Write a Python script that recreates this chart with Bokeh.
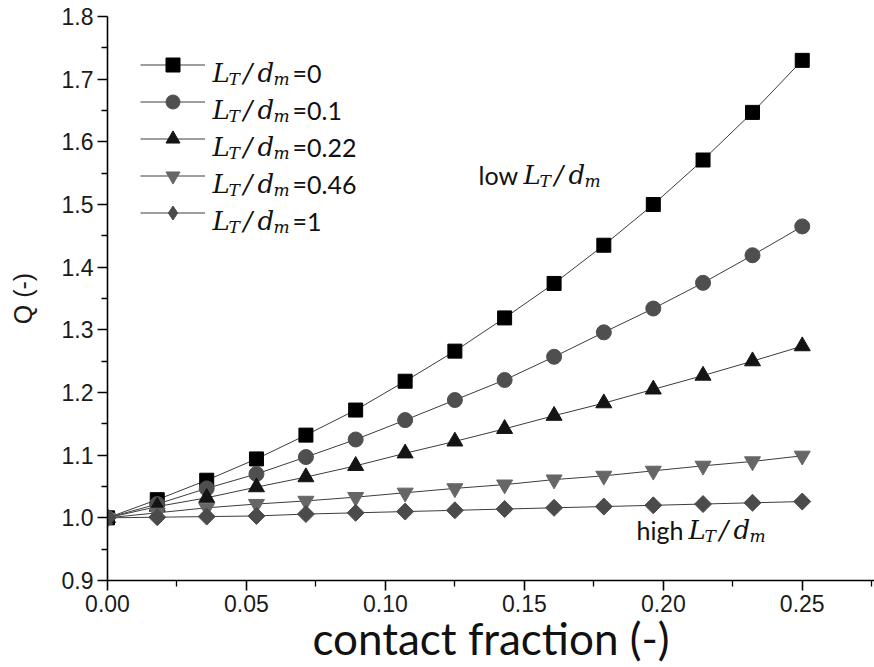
from math import pi

from bokeh.core.properties import value
from bokeh.embed import file_html
from bokeh.models import FixedTicker, Label, Legend, LegendItem, PrintfTickFormatter, Range1d
from bokeh.plotting import figure
from bokeh.resources import INLINE

# contact fraction and flux ratio Q for five values of L_T/d_m
contact_fraction = [0.0, 0.0179, 0.0357, 0.0536, 0.0714, 0.0893, 0.1071, 0.125,
                    0.1429, 0.1607, 0.1786, 0.1964, 0.2143, 0.2321, 0.25]
q_lt_0 = [1.000, 1.029, 1.060, 1.094, 1.132, 1.172, 1.218, 1.266,
          1.319, 1.374, 1.435, 1.500, 1.571, 1.647, 1.730]
q_lt_01 = [1.000, 1.022, 1.047, 1.070, 1.097, 1.125, 1.156, 1.188,
           1.220, 1.257, 1.296, 1.334, 1.375, 1.419, 1.465]
q_lt_022 = [1.000, 1.018, 1.032, 1.049, 1.065, 1.083, 1.103, 1.122,
            1.142, 1.163, 1.183, 1.205, 1.227, 1.250, 1.274]
q_lt_046 = [1.000, 1.008, 1.016, 1.022, 1.027, 1.033, 1.040, 1.047,
            1.053, 1.061, 1.067, 1.075, 1.083, 1.090, 1.099]
q_lt_1 = [1.000, 1.001, 1.002, 1.003, 1.006, 1.008, 1.010, 1.012,
          1.014, 1.016, 1.018, 1.020, 1.022, 1.024, 1.026]

ratio_labels = ["=0", "=0.1", "=0.22", "=0.46", "=1"]
x_ticks = [0.0, 0.05, 0.10, 0.15, 0.20, 0.25]
x_minor = [0.025, 0.075, 0.125, 0.175, 0.225, 0.275]
y_ticks = [0.9, 1.0, 1.1, 1.2, 1.3, 1.4, 1.5, 1.6, 1.7, 1.8]
y_minor = [0.95, 1.05, 1.15, 1.25, 1.35, 1.45, 1.55, 1.65, 1.75]

FRAME_LEFT, FRAME_BOTTOM = 107, 580

p = figure(width=874, height=667, x_range=Range1d(0, 0.276), y_range=Range1d(0.9, 1.8),
           output_backend="svg", toolbar_location=None,
           min_border_left=FRAME_LEFT, min_border_right=0, min_border_top=16,
           min_border_bottom=667 - FRAME_BOTTOM)
p.outline_line_color = None
p.grid.visible = False
p.background_fill_color = "white"
p.border_fill_color = "white"

p.xaxis.ticker = FixedTicker(ticks=x_ticks, minor_ticks=x_minor)
p.xaxis.formatter = PrintfTickFormatter(format="%.2f")
p.yaxis.ticker = FixedTicker(ticks=y_ticks, minor_ticks=y_minor)
p.yaxis.formatter = PrintfTickFormatter(format="%.1f")
for ax in (p.xaxis, p.yaxis):
    ax.axis_line_width = 1.6
    ax.axis_line_color = "black"
    ax.major_tick_line_width = 1.6
    ax.minor_tick_line_width = 1.3
    ax.major_tick_line_color = "black"
    ax.minor_tick_line_color = "black"
    ax.major_tick_in = 0
    ax.major_tick_out = 10
    ax.minor_tick_in = 0
    ax.minor_tick_out = 6
    ax.major_label_text_font = "Liberation Sans"
    ax.major_label_text_font_size = "23px"
    ax.major_label_text_color = "#1a1a1a"
    ax.major_label_standoff = 4

p.xaxis.axis_label = "contact fraction (-)"
p.xaxis.axis_label_text_font = "Lato"
p.xaxis.axis_label_text_font_style = "normal"
p.xaxis.axis_label_text_font_size = "44px"
p.xaxis.axis_label_text_color = "#111111"
p.xaxis.axis_label_standoff = -3

p.yaxis.axis_label = "Q (-)"
p.yaxis.axis_label_text_font = "Liberation Sans"
p.yaxis.axis_label_text_font_style = "normal"
p.yaxis.axis_label_text_font_size = "25px"
p.yaxis.axis_label_text_color = "#1a1a1a"
p.yaxis.axis_label_standoff = 22

series = [
    (q_lt_0, "square", 14, "#000000", 0.0),
    (q_lt_01, "circle", 15, "#4f4f4f", 0.0),
    (q_lt_022, "triangle", 16, "#141414", 0.0),
    (q_lt_046, "inverted_triangle", 16, "#666666", 0.0),
    (q_lt_1, "square", 12, "#4b4b4b", pi / 4),
]

items = []
for ys, marker, size, color, angle in series:
    ln = p.line(contact_fraction, ys, line_color="#3c3c3c", line_width=1)
    sc = p.scatter(contact_fraction, ys, marker=marker, size=size, angle=angle,
                   fill_color=color, line_color=color)
    if angle:
        # legend swatches ignore the marker angle, so the diamond key uses its own
        # off-canvas glyph
        sc = p.scatter([float("nan")], [float("nan")], marker="diamond", size=size,
                       fill_color=color, line_color=color)
    items.append(LegendItem(label=value(" "), renderers=[ln, sc]))

legend = Legend(items=items, location=(33, 350), glyph_width=65, glyph_height=35,
                spacing=2, padding=0, margin=0, label_standoff=0,
                border_line_alpha=0, background_fill_alpha=0,
                label_text_font_size="10px")
p.add_layout(legend)


def put(text, px, py, size, font, style="normal", color="#111111"):
    p.add_layout(Label(x=px - FRAME_LEFT, y=FRAME_BOTTOM - py, x_units="screen",
                       y_units="screen", text=text, text_font=font,
                       text_font_style=style, text_font_size=f"{size}px",
                       text_color=color, text_baseline="alphabetic", text_align="left"))


def ratio_text(px, py, tail=""):
    """Writes L_T/d_m with its subscripts, followed by an optional tail."""
    serif = "DejaVu Serif"
    put("L", px, py, 26, serif, "italic")
    put("T", px + 16, py + 6, 17, serif, "italic")
    put("/", px + 31, py, 26, serif, "italic")
    put("d", px + 45, py, 26, serif, "italic")
    put("m", px + 61, py + 6, 17, serif, "italic")
    if tail:
        put(tail, px + 80, py, 25, "Lato")


for i, tail in enumerate(ratio_labels):
    ratio_text(212, 72 + 37 * i, tail)

put("low", 478, 174, 25, "Lato")
ratio_text(523, 174)
put("high", 636, 529, 25, "Lato")
ratio_text(688, 529)

open("out.html", "w").write(file_html(p, INLINE))
